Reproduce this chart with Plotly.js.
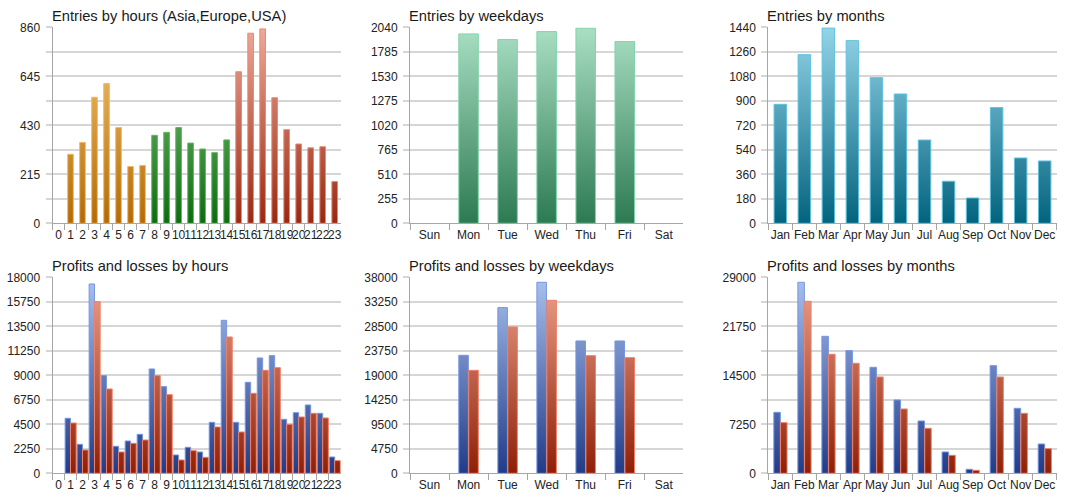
<!DOCTYPE html>
<html><head><meta charset="utf-8">
<script src="https://cdn.plot.ly/plotly-3.0.1.min.js"></script>
<style>html,body{margin:0;padding:0;background:#fff}#chart{width:1075px;height:500px}</style>
</head><body><div id="chart"></div>
<script>
// ---------- data ----------
const hours = ['0','1','2','3','4','5','6','7','8','9','10','11','12','13','14','15','16','17','18','19','20','21','22','23'];
const hourRegion = ['Asia','Asia','Asia','Asia','Asia','Asia','Asia','Asia',
  'Europe','Europe','Europe','Europe','Europe','Europe','Europe',
  'USA','USA','USA','USA','USA','USA','USA','USA','USA'];
const hourEntries = [0,303,355,553,613,420,249,254,386,399,420,352,326,310,366,665,834,853,551,411,348,331,336,183];

const weekdays = ['Sun','Mon','Tue','Wed','Thu','Fri','Sat'];
const weekdayEntries = [0,1971,1912,1995,2030,1891,0];

const months = ['Jan','Feb','Mar','Apr','May','Jun','Jul','Aug','Sep','Oct','Nov','Dec'];
const monthEntries = [874,1239,1435,1342,1070,950,612,309,186,850,480,458];

const hourProfits = [0,5051,2663,17388,8969,2480,2969,3582,9582,7959,1684,2388,1959,4684,14051,4684,8357,10592,10806,4959,5571,6276,5510,1500];
const hourLosses  = [0,4622,2143,15765,7745,1959,2755,3061,8969,7224,1224,2082,1469,4255,12520,3796,7347,9459,9704,4500,5173,5510,5082,1163];

const weekdayProfits = [0,22878,32122,37032,25658,25658,0];
const weekdayLosses  = [0,19970,28372,33543,22814,22426,0];

const monthProfits = [9026,28262,20271,18150,15684,10851,7743,3157,592,15931,9617,4340];
const monthLosses  = [7497,25449,17608,16276,14254,9519,6659,2663,444,14254,8878,3650];

// tick labels
const hourEntryTicks = ['0','215','430','645','860'];
const weekdayEntryTicks = ['0','255','510','765','1020','1275','1530','1785','2040'];
const monthEntryTicks = ['0','180','360','540','720','900','1080','1260','1440'];
const hourProfitTicks = ['0','2250','4500','6750','9000','11250','13500','15750','18000'];
const weekdayProfitTicks = ['0','4750','9500','14250','19000','23750','28500','33250','38000'];
const monthProfitTicks = ['0','7250','14500','21750','29000'];

const titles = ['Entries by hours (Asia,Europe,USA)','Entries by weekdays','Entries by months',
  'Profits and losses by hours','Profits and losses by weekdays','Profits and losses by months'];

// ---------- styles ----------
const FONT = 'Liberation Sans, Arial, sans-serif';
const grads = {
  asia:   ['#f6c874','#b46a04','#f4b95a'],
  europe: ['#8fd08a','#0d6b10','#5cb85c'],
  usa:    ['#f0a898','#9a2810','#e58a78'],
  week:   ['#aadfc4','#2c7a52','#80d4a8'],
  month:  ['#94d4e8','#03637e','#5cc2e0'],
  blue:   ['#a9c1ee','#213b87','#7596e6'],
  red:    ['#eea48e','#8e1f06','#f08068']
};
const xDomains = [[52.5/1075, 340.7/1075],[410/1075, 683.3/1075],[768.3/1075, 1056.7/1075]];
const yDomains = [[1-223.3/500, 1-27.3/500],[1-473.3/500, 1-277.3/500]];
const titleX = [49.5/1075, 407/1075, 764.5/1075];
const titleY = [1-15.5/500, 1-265.5/500];

function bar(x, y, key, n, width, offset, name) {
  const t = {type:'bar', x:x, y:y, xaxis:'x'+(n===1?'':n), yaxis:'y'+(n===1?'':n),
    width:width, meta:key, name:name, hoverinfo:'x+y',
    marker:{color:grads[key][1], line:{color:grads[key][2], width:y.map(v => v ? 1 : 0)}}};
  if (offset !== undefined) t.offset = offset;
  return t;
}

const traces = [];
// chart 1: hours entries, split by region
['Asia','Europe','USA'].forEach(r => {
  const xs = [], ys = [];
  hours.forEach((h,i) => { if (hourRegion[i] === r) { xs.push(h); ys.push(hourEntries[i]); } });
  traces.push(bar(xs, ys, r.toLowerCase(), 1, 0.47, -0.235, r));
});
traces.push(bar(weekdays, weekdayEntries, 'week', 2, 0.5, -0.25, 'Entries'));
traces.push(bar(months, monthEntries, 'month', 3, 0.52, -0.26, 'Entries'));
traces.push(bar(hours, hourProfits, 'blue', 4, 0.45, -0.45, 'Profits'));
traces.push(bar(hours, hourLosses, 'red', 4, 0.47, 0.0, 'Losses'));
traces.push(bar(weekdays, weekdayProfits, 'blue', 5, 0.245, -0.25, 'Profits'));
traces.push(bar(weekdays, weekdayLosses, 'red', 5, 0.245, 0.005, 'Losses'));
traces.push(bar(months, monthProfits, 'blue', 6, 0.27, -0.27, 'Profits'));
traces.push(bar(months, monthLosses, 'red', 6, 0.27, 0.01, 'Losses'));

const charts = [
  {cats:hours, ticks:hourEntryTicks, half:true},
  {cats:weekdays, ticks:weekdayEntryTicks, half:false},
  {cats:months, ticks:monthEntryTicks, half:false},
  {cats:hours, ticks:hourProfitTicks, half:false},
  {cats:weekdays, ticks:weekdayProfitTicks, half:false},
  {cats:months, ticks:monthProfitTicks, half:true}
];

const layout = {
  width:1075, height:500, margin:{l:0,r:0,t:0,b:0},
  paper_bgcolor:'#ffffff', plot_bgcolor:'rgba(0,0,0,0)',
  showlegend:false, barmode:'overlay',
  font:{family:FONT, size:12, color:'#222222'},
  annotations:[]
};

charts.forEach((c, k) => {
  const n = k+1;
  const sfx = n===1 ? '' : String(n);
  const col = k % 3, row = Math.floor(k/3);
  const nums = c.ticks.map(Number);
  const ymax = nums[nums.length-1];
  const labelStep = nums[1]-nums[0];
  const gridStep = c.half ? labelStep/2 : labelStep;
  const darkStep = gridStep*2;
  const tv = [], tt = [];
  for (let v = 0; v <= ymax + 1e-6; v += gridStep) {
    tv.push(v);
    const idx = nums.indexOf(v);
    tt.push(idx >= 0 ? c.ticks[idx] : '');
  }
  layout['xaxis'+sfx] = {
    domain:xDomains[col], anchor:'y'+sfx, type:'category',
    range:[-0.5, c.cats.length-0.5], tickmode:'linear', tick0:0, dtick:1,
    tickson:'boundaries', ticks:'outside', ticklen:6, tickcolor:'#a6a6a6', tickwidth:1,
    showline:true, linecolor:'#a6a6a6', linewidth:1, showgrid:false, zeroline:false,
    tickangle:0, tickfont:{family:FONT, size:12, color:'#222222'}, fixedrange:true
  };
  layout['yaxis'+sfx] = {
    domain:yDomains[row], anchor:'x'+sfx, range:[0, ymax],
    tickmode:'array', tickvals:tv, ticktext:tt,
    showgrid:true, gridcolor:'#d6d6d6', gridwidth:2,
    ticks:'outside', ticklen:6, tickcolor:'#d6d6d6', tickwidth:2,
    showline:true, linecolor:'#a6a6a6', linewidth:1, zeroline:false,
    ticklabelstandoff:3,
    tickfont:{family:FONT, size:12, color:'#222222'}, fixedrange:true
  };
  layout['yaxis'+(n+6)] = {
    overlaying:'y'+sfx, anchor:'x'+sfx, side:'left', range:[0, ymax],
    tickmode:'linear', tick0:0, dtick:darkStep,
    showgrid:true, gridcolor:'#a9a9a9', gridwidth:1,
    ticks:'outside', ticklen:6, tickcolor:'#a9a9a9', tickwidth:1,
    showticklabels:false, showline:false, zeroline:false, fixedrange:true
  };
  layout.annotations.push({
    text:titles[k], xref:'paper', yref:'paper', x:titleX[col], y:titleY[row],
    xanchor:'left', yanchor:'middle', showarrow:false,
    font:{family:FONT, size:14.7, color:'#1a1a1a'}
  });
});

const gd = document.getElementById('chart');
Plotly.newPlot(gd, traces, layout, {staticPlot:true, displayModeBar:false}).then(() => {
  const ns = 'http://www.w3.org/2000/svg';
  const svg = gd.querySelector('svg.main-svg');
  let defs = svg.querySelector('defs');
  if (!defs) { defs = document.createElementNS(ns,'defs'); svg.insertBefore(defs, svg.firstChild); }
  const H = gd._fullLayout.yaxis._length;
  Object.keys(grads).forEach(key => {
    const g = document.createElementNS(ns,'linearGradient');
    g.setAttribute('id','grad-'+key);
    g.setAttribute('gradientUnits','userSpaceOnUse');
    g.setAttribute('x1','0'); g.setAttribute('x2','0');
    g.setAttribute('y1','0'); g.setAttribute('y2', String(H));
    [[0, grads[key][0]],[1, grads[key][1]]].forEach(([o,c]) => {
      const s = document.createElementNS(ns,'stop');
      s.setAttribute('offset', String(o)); s.setAttribute('stop-color', c);
      g.appendChild(s);
    });
    defs.appendChild(g);
  });
  gd.querySelectorAll('g.trace.bars').forEach(tr => {
    const d = tr.__data__;
    const key = d && d[0] && d[0].trace && d[0].trace.meta;
    if (!key) return;
    tr.querySelectorAll('path').forEach(p => { p.style.fill = 'url(#grad-'+key+')'; p.style.fillOpacity = 1; });
  });
});
</script>
</body></html>
